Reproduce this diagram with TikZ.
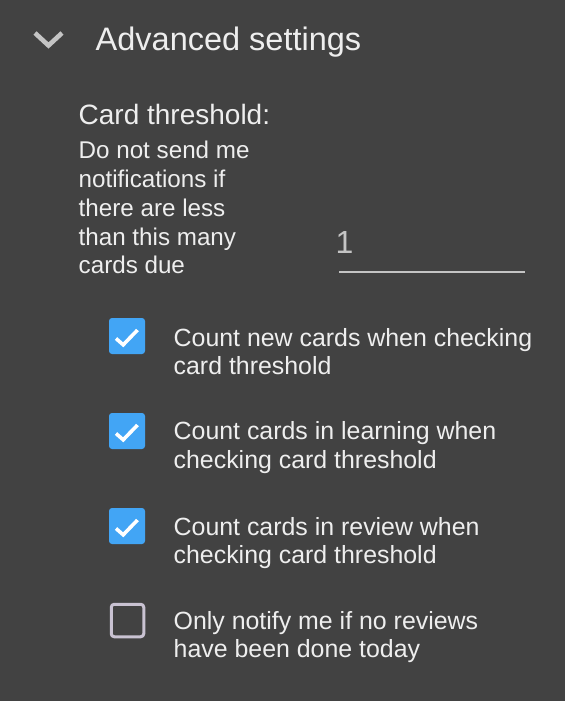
\documentclass[tikz,border=0pt]{standalone}
\usepackage{fontspec}
\setmainfont{Liberation Sans}
\definecolor{bg}{HTML}{424242}
\definecolor{txt}{HTML}{EEEEEE}
\definecolor{dim}{HTML}{C4C4C4}
\definecolor{cbblue}{HTML}{42A5F5}
\definecolor{cbgray}{HTML}{C9C2D2}
\tikzset{
  lbl/.style={anchor=base west, inner sep=0pt, text=txt, font=\fontsize{24.9}{28.75}\selectfont},
  desc/.style={anchor=base west, inner sep=0pt, text=txt, font=\fontsize{24.2}{28.75}\selectfont},
  checked/.style={fill=cbblue, draw=none, rounded corners=3pt, minimum width=36pt, minimum height=36pt, inner sep=0pt},
  unchecked/.style={draw=cbgray, line width=3pt, fill=none, rounded corners=3pt, minimum width=32.5pt, minimum height=32.5pt, inner sep=0pt},
  tick/.style={draw=white, line width=3.6pt, line join=miter, line cap=butt}
}
\begin{document}
\begin{tikzpicture}[x=1pt,y=-1pt]
\useasboundingbox (0,0) rectangle (565,701);
\fill[bg] (0,0) rectangle (565,701);
% chevron
\coordinate (cvl) at (35,33);
\coordinate (cvb) at (48.5,45.5);
\coordinate (cvr) at (62,33);
\draw[dim, line width=4.6pt, line join=miter] (cvl) -- (cvb) -- (cvr);
\node[anchor=base west, inner sep=0pt, text=txt, font=\fontsize{32.5}{36}\selectfont] (title) at (95.5,51) {Advanced settings};
\node[anchor=base west, inner sep=0pt, text=txt, font=\fontsize{28}{32}\selectfont] (ct) at (78.5,124) {Card threshold:};
\node[desc] (d1) at (78.5,158.5) {Do not send me};
\node[desc] (d2) at (78.5,187) {notifications if};
\node[desc] (d3) at (78.5,216) {there are less};
\node[desc] (d4) at (78.5,245) {than this many};
\node[desc] (d5) at (78.5,273.5) {cards due};
\node[anchor=base west, inner sep=0pt, text=dim, font=\fontsize{32}{36}\selectfont] (num) at (335.5,253) {1};
\coordinate (ul) at (339,272);
\coordinate (ur) at (525,272);
\draw[dim, line width=2pt] (ul) -- (ur);
% checkboxes
\node[checked] (cb1) at (127,336) {};
\node[checked] (cb2) at (127,431) {};
\node[checked] (cb3) at (127,526) {};
\node[unchecked] (cb4) at (127.5,620.5) {};
\foreach \c in {cb1,cb2,cb3}{
  \draw[tick] ([shift={(-11,2.5)}]\c.center) -- ([shift={(-3.8,8.8)}]\c.center) -- ([shift={(10.5,-6)}]\c.center);
}
\node[lbl] (t1a) at (173.5,346) {Count new cards when checking};
\node[lbl] (t1b) at (173.5,374.5) {card threshold};
\node[lbl] (t2a) at (173.5,439.5) {Count cards in learning when};
\node[lbl] (t2b) at (173.5,468) {checking card threshold};
\node[lbl] (t3a) at (173.5,535) {Count cards in review when};
\node[lbl] (t3b) at (173.5,563.5) {checking card threshold};
\node[lbl] (t4a) at (173.5,629.5) {Only notify me if no reviews};
\node[lbl] (t4b) at (173.5,657.5) {have been done today};
\end{tikzpicture}
\end{document}
